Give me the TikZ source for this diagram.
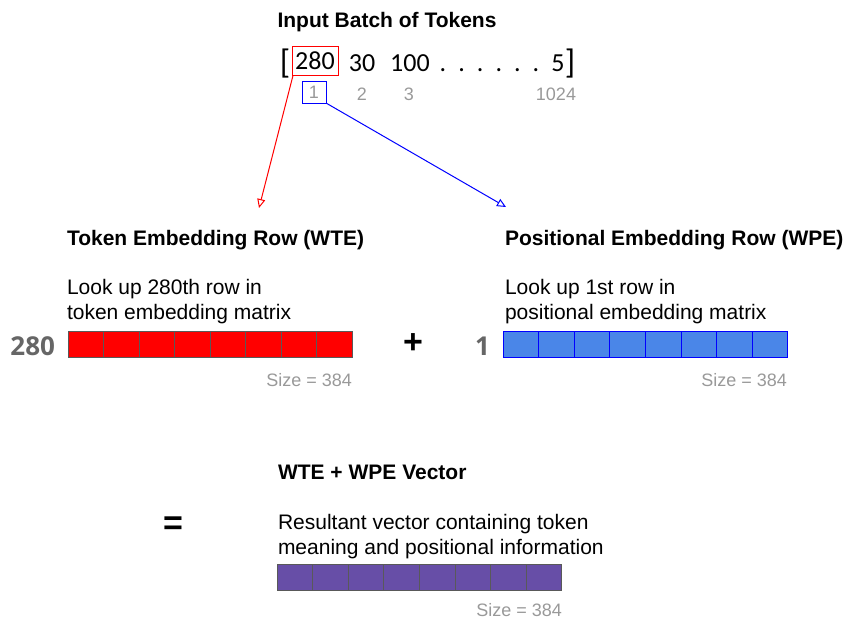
\documentclass[tikz,border=0pt]{standalone}
\usepackage{fontspec}
\setmainfont{Liberation Sans}
\newfontfamily\tokfont{Carlito}
\newfontfamily\idfont{Open Sans}
\usetikzlibrary{arrows.meta,positioning}

\definecolor{wtered}{HTML}{FF0000}
\definecolor{wpeblue}{HTML}{4A86E8}
\definecolor{sumpurple}{HTML}{674EA7}
\definecolor{cellline}{HTML}{595959}
\definecolor{softgray}{HTML}{999999}
\definecolor{idgray}{HTML}{666666}

\begin{document}
\begin{tikzpicture}[
  x=1pt,y=-1pt,
  >={Triangle[open,length=9pt,width=8pt]},
  every node/.style={inner sep=0pt,outer sep=0pt},
  heading/.style={anchor=base west,font=\fontsize{21}{25}\selectfont\bfseries},
  note/.style={anchor=base west,align=left,font=\fontsize{21}{25}\selectfont},
  token/.style={anchor=base,font=\tokfont\fontsize{26}{30}\selectfont},
  bracket/.style={anchor=base,font=\tokfont\fontsize{34}{36}\selectfont},
  index/.style={anchor=base,text=softgray,font=\fontsize{18}{20}\selectfont},
  sizelbl/.style={anchor=base east,text=softgray,font=\fontsize{18}{20}\selectfont},
  rowid/.style={anchor=base east,text=idgray,font=\idfont\bfseries\fontsize{26}{30}\selectfont},
  op/.style={font=\bfseries\fontsize{34}{36}\selectfont},
  cell/.style={draw,anchor=north west,minimum width=35.6pt,minimum height=26pt,line width=1pt}
]
  \useasboundingbox (0,0) rectangle (844,619);

  % input batch
  \node[heading,anchor=base] (title) at (387,27) {Input Batch of Tokens};
  \node[bracket] (lbr) at (285,73) {[};
  \node[token,anchor=center,draw=wtered,line width=1pt,minimum width=46pt,
        minimum height=29pt] (t280) at (315,61) {280};
  \node[token] (t30) at (362,71) {30};
  \node[token] (t100) at (410,71) {100};
  \foreach \d in {0,...,5}
    \node[token] (dot\d) at (443+18.6*\d,71) {.};
  \node[token] (t5) at (558,71) {5};
  \node[bracket] (rbr) at (570,73) {]};

  \node[index,anchor=center,draw=blue,line width=1pt,minimum width=24pt,
        minimum height=22pt] (i1) at (314,92) {1};
  \node[index] (i2) at (362,100) {2};
  \node[index] (i3) at (409,100) {3};
  \node[index] (i1024) at (556,100) {1024};

  \coordinate (wteIn) at (259,208);
  \coordinate (wpeIn) at (506,207);
  \draw[->,wtered,line width=1pt] ([xshift=1pt]t280.south west) -- (wteIn);
  \draw[->,blue,line width=1pt] (i1.south east) -- (wpeIn);

  % token embedding
  \node[heading] (wtehead) at (67,245) {Token Embedding Row (WTE)};
  \node[note] (wtenote) at (67,319) {Look up 280th row in\\token embedding matrix};
  \foreach \i in {0,...,7}
    \node[cell,draw=cellline,fill=wtered] (wte\i) at (68+35.5*\i,331) {};
  \node[rowid] (wteid) at (55,355) {280};
  \node[sizelbl] (wtesize) at (352,386) {Size = 384};

  \node[op] (plus) at (413,344) {+};

  % positional embedding
  \node[heading] (wpehead) at (505,245) {Positional Embedding Row (WPE)};
  \node[note] (wpenote) at (505,319) {Look up 1st row in\\positional embedding matrix};
  \foreach \i in {0,...,7}
    \node[cell,draw=blue,fill=wpeblue] (wpe\i) at (503+35.6*\i,331) {};
  \node[rowid] (wpeid) at (490,355) {1};
  \node[sizelbl] (wpesize) at (787,386) {Size = 384};

  % sum
  \node[op] (eq) at (173,526) {=};
  \node[heading] (sumhead) at (278,479) {WTE + WPE Vector};
  \node[note] (sumnote) at (278,554) {Resultant vector containing token\\meaning and positional information};
  \foreach \i in {0,...,7}
    \node[cell,draw=cellline,fill=sumpurple] (sum\i) at (277+35.6*\i,564) {};
  \node[sizelbl] (sumsize) at (562,616) {Size = 384};
\end{tikzpicture}
\end{document}
